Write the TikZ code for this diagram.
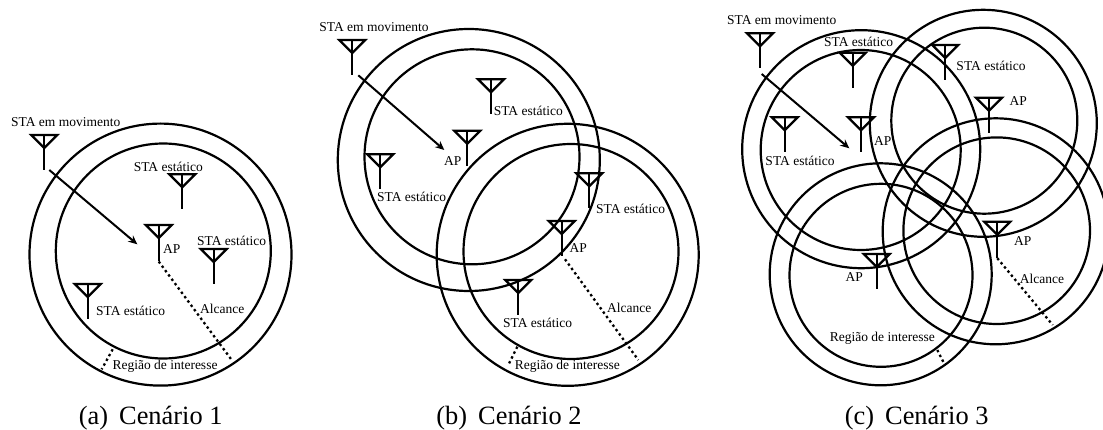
\documentclass[tikz,border=0pt]{standalone}
\usepackage{fontspec}
\setmainfont{Liberation Serif}
\usetikzlibrary{arrows.meta}
\newcommand{\ring}[4]{\node[ringshape,minimum size=#4*2pt] (#1) at (#2,#3) {};}
\newcommand{\antenna}[4][35]{%
  \coordinate (#2-top) at (#3,#4);
  \coordinate (#2-foot) at (#3,#4+#1);
  \coordinate (#2-l) at (#3-13,#4);
  \coordinate (#2-r) at (#3+13,#4);
  \coordinate (#2-a) at (#3,#4+13);
  \draw[antline] (#2-l) -- (#2-r) -- (#2-a) -- cycle;
  \draw[antline] (#2-top) -- (#2-foot);
}
\tikzset{
  ringshape/.style={circle,draw=black,line width=2.2pt,inner sep=0pt,outer sep=0pt,fill=none},
  antline/.style={draw=black,line width=2.3pt,line join=miter},
  lab/.style={font=\fontsize{13.5}{14}\selectfont,inner sep=0pt,text=black},
  captext/.style={font=\fontsize{26.4}{28}\selectfont,inner sep=0pt},
  moveline/.style={draw=black,line width=2pt,-{Stealth[length=9pt,width=8pt]}},
  rangeline/.style={draw=black,line width=2.3pt,dash pattern=on 2.4pt off 3pt},
}
\begin{document}
\begin{tikzpicture}[x=1pt,y=-1pt]
\useasboundingbox (0,0) rectangle (1103,430);
% ---- (a)
\ring{aO}{160.5}{254.6}{131}
\ring{aI}{163.3}{251}{107.5}
\antenna{aM}{44.3}{135}
\antenna{aS1}{182.3}{174.3}
\antenna[36.5]{aP}{158.7}{225}
\antenna{aS2}{213.7}{249}
\antenna{aS3}{87.7}{284}
\coordinate (aAs) at (49.3,170);
\coordinate (aAe) at (137.3,244.3);
\draw[moveline] (aAs) -- (aAe);
\coordinate (aD1e) at (231.7,360);
\draw[rangeline] (aP-foot) -- (aD1e);
\coordinate (aD2s) at (112.7,349.3);
\coordinate (aD2e) at (101.7,369.3);
\draw[rangeline] (aD2s) -- (aD2e);
\node[lab] (aT1) at (65.7,122.3) {STA em movimento};
\node[lab] (aT2) at (168.3,166.7) {STA estático};
\node[lab] (aT3) at (171.7,248.7) {AP};
\node[lab] (aT4) at (231.7,241) {STA estático};
\node[lab] (aT5) at (130.7,311) {STA estático};
\node[lab] (aT6) at (222.3,308.7) {Alcance};
\node[lab] (aT7) at (165,366.7) {Região de interesse};
\node[captext] (aC) at (150.7,418) {(a)\, Cenário 1};
% ---- (b)
\ring{bO1}{468.8}{160}{131}
\ring{bI1}{472}{156.8}{107.5}
\ring{bO2}{567.7}{254.8}{131}
\ring{bI2}{571}{251.5}{107.5}
\antenna{bM}{352.3}{40}
\antenna{bS1}{491}{79.3}
\antenna{bP1}{467.3}{130.7}
\antenna{bS2}{380.3}{154.3}
\antenna{bS3}{589.3}{173.3}
\antenna{bP2}{561.7}{221}
\antenna{bS4}{518.3}{280}
\coordinate (bAs) at (358.3,75.3);
\coordinate (bAe) at (444.3,150);
\draw[moveline] (bAs) -- (bAe);
\coordinate (bD1s) at (565,259.3);
\coordinate (bD1e) at (638.3,360);
\draw[rangeline] (bD1s) -- (bD1e);
\coordinate (bD2s) at (517.3,346.7);
\coordinate (bD2e) at (508.3,365);
\draw[rangeline] (bD2s) -- (bD2e);
\node[lab] (bT1) at (374,27.3) {STA em movimento};
\node[lab] (bT2) at (528.3,111) {STA estático};
\node[lab] (bT3) at (452.7,161.3) {AP};
\node[lab] (bT4) at (411.7,196.7) {STA estático};
\node[lab] (bT5) at (630.7,209.3) {STA estático};
\node[lab] (bT6) at (578.3,248.3) {AP};
\node[lab] (bT7) at (537.7,322.7) {STA estático};
\node[lab] (bT8) at (629.3,308.3) {Alcance};
\node[lab] (bT9) at (567.3,366.7) {Região de interesse};
\node[captext] (bC) at (509,418) {(b)\, Cenário 2};
% ---- (c)
\ring{cO1}{861.2}{149.2}{119}
\ring{cI1}{860.7}{150}{100}
\ring{cO2}{983.3}{123.3}{113.5}
\ring{cI2}{984.3}{120.7}{93}
\ring{cO3}{995.7}{231.3}{113}
\ring{cI3}{996.7}{230.7}{93.3}
\ring{cO4}{880.7}{274.3}{111}
\ring{cI4}{881}{275.3}{91.5}
\antenna{cM}{760}{33.3}
\antenna{cS1}{852.7}{52.7}
\antenna{cS2}{945.3}{45}
\antenna{cP1}{989}{97.7}
\antenna{cS3}{784.7}{117.3}
\antenna{cP2}{861}{117.3}
\antenna[36.5]{cP3}{997.3}{221.7}
\antenna{cP4}{876.7}{254}
\coordinate (cAs) at (761.7,74);
\coordinate (cAe) at (849.3,148.3);
\draw[moveline] (cAs) -- (cAe);
\coordinate (cD1e) at (1052.7,325);
\draw[rangeline] (cP3-foot) -- (cD1e);
\coordinate (cD2s) at (937.3,350);
\coordinate (cD2e) at (944,363.3);
\draw[rangeline] (cD2s) -- (cD2e);
\node[lab] (cT1) at (781.7,20) {STA em movimento};
\node[lab] (cT2) at (858.7,41.7) {STA estático};
\node[lab] (cT3) at (991,65.7) {STA estático};
\node[lab] (cT4) at (1018.3,101) {AP};
\node[lab] (cT5) at (882.7,140.7) {AP};
\node[lab] (cT6) at (800,161.3) {STA estático};
\node[lab] (cT7) at (1022.7,241) {AP};
\node[lab] (cT8) at (854.3,277.3) {AP};
\node[lab] (cT9) at (1042,278.7) {Alcance};
\node[lab] (cT10) at (882.3,338.3) {Região de interesse};
\node[captext] (cC) at (916.7,418) {(c)\, Cenário 3};
\end{tikzpicture}
\end{document}
